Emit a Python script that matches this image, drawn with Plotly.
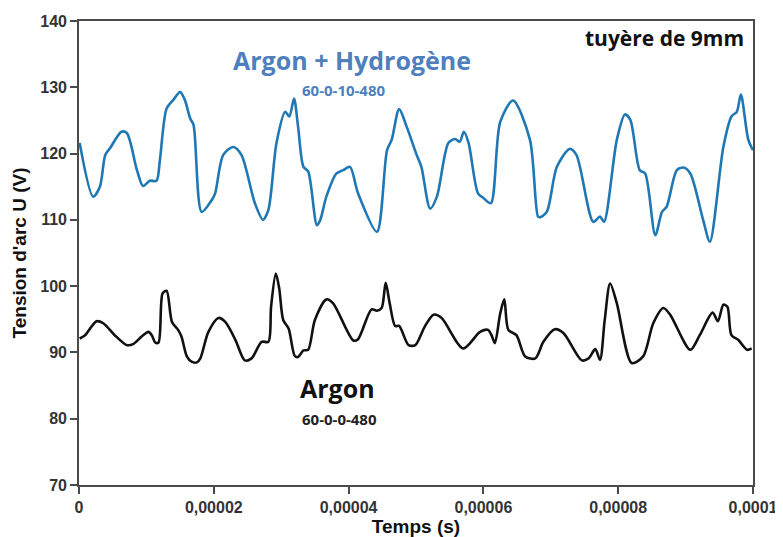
import plotly.graph_objects as go

# Time in units of 1e-5 s
t_h2 = [0.01,0.21,0.31,0.39,0.46,0.63,0.71,0.86,0.95,1.05,1.15,1.20,1.30,1.40,1.50,1.57,1.65,1.70,1.82,1.97,2.02,2.14,2.29,2.41,2.61,2.73,2.81,2.93,3.06,3.12,3.19,3.25,3.33,3.40,3.53,3.58,3.67,3.82,3.92,4.02,4.14,4.42,4.57,4.64,4.75,4.86,5.01,5.08,5.21,5.31,5.48,5.58,5.65,5.71,5.78,5.92,6.00,6.11,6.25,6.44,6.69,6.81,6.84,6.94,7.09,7.28,7.38,7.63,7.73,7.79,7.98,8.10,8.18,8.32,8.40,8.55,8.65,8.72,8.87,8.97,9.07,9.26,9.36,9.56,9.68,9.76,9.82,9.93,10.0]
u_h2 = [121.6,113.5,115.0,119.8,120.8,123.3,123.1,117.5,115.1,115.9,115.9,119.0,126.8,128.1,129.3,128.1,125.3,124.3,111.2,113.0,114.0,119.8,121.0,119.8,112.5,110.0,111.5,121.6,126.3,125.6,128.3,124.1,118.0,117.3,109.2,110.0,113.5,117.0,117.5,118.0,114.0,108.2,120.5,122.1,126.7,124.1,119.8,118.0,111.7,113.5,121.6,122.2,121.8,123.3,121.6,114.0,113.3,112.5,124.8,128.0,122.1,110.5,110.4,111.2,118.0,120.7,119.8,109.7,110.5,109.7,122.1,125.9,125.1,117.5,117.0,107.7,111.2,112.0,117.5,117.9,117.0,110.0,106.7,121.0,125.6,126.3,128.9,122.1,120.5]

t_ar = [0.01,0.09,0.26,0.36,0.53,0.71,0.81,0.93,1.03,1.08,1.13,1.18,1.24,1.30,1.38,1.47,1.52,1.60,1.67,1.75,1.80,1.92,2.07,2.17,2.32,2.46,2.56,2.71,2.81,2.85,2.92,2.97,3.03,3.11,3.20,3.25,3.33,3.40,3.50,3.67,3.77,4.07,4.14,4.34,4.42,4.49,4.55,4.61,4.69,4.75,4.89,4.99,5.13,5.26,5.38,5.70,5.95,6.07,6.12,6.17,6.25,6.31,6.37,6.49,6.62,6.77,6.89,7.06,7.19,7.46,7.56,7.66,7.73,7.80,7.88,7.98,8.20,8.37,8.52,8.67,8.77,9.07,9.21,9.40,9.48,9.56,9.62,9.68,9.78,9.91,9.98]
u_ar = [92.1,92.6,94.7,94.4,92.6,91.1,91.3,92.4,93.1,92.6,91.5,91.5,98.9,99.3,94.6,93.4,92.4,89.4,88.6,88.5,89.1,93.1,95.2,94.6,91.9,88.8,89.1,91.6,91.6,96.9,101.9,99.7,94.9,93.6,89.5,89.3,90.3,90.4,94.9,98.0,97.4,91.8,92.0,96.5,96.3,96.7,100.5,97.4,94.0,94.0,91.1,91.1,93.9,95.7,95.2,90.6,93.1,93.4,92.6,91.4,95.9,98.0,93.4,92.6,89.4,89.1,91.6,93.5,92.9,88.8,89.1,90.5,88.9,94.9,100.4,97.4,88.4,89.4,94.4,96.7,95.7,90.4,92.6,96.0,94.7,97.2,96.9,92.6,91.9,90.4,90.6]

x_tickvals = [0, 0.00002, 0.00004, 0.00006, 0.00008, 0.0001]
x_ticktext = ["0", "0,00002", "0,00004", "0,00006", "0,00008", "0,0001"]
y_tickvals = [70, 80, 90, 100, 110, 120, 130, 140]

fig = go.Figure()
fig.add_trace(go.Scatter(x=[t * 1e-5 for t in t_h2], y=u_h2, mode="lines",
                         line=dict(color="#1f78b4", width=2.6, shape="spline", smoothing=0.8),
                         showlegend=False))
fig.add_trace(go.Scatter(x=[t * 1e-5 for t in t_ar], y=u_ar, mode="lines",
                         line=dict(color="#111111", width=2.6, shape="spline", smoothing=0.8),
                         showlegend=False))

tickfont = dict(family="Liberation Sans", size=16, color="#333333", weight="bold")
axis_common = dict(showgrid=False, zeroline=False, showline=True, linecolor="#4a4a4a", linewidth=1.6,
                   mirror=True, ticks="outside", ticklen=7, tickcolor="#4a4a4a", tickwidth=1.6,
                   tickfont=tickfont, automargin=False)
fig.update_xaxes(range=[0, 0.0001], tickvals=x_tickvals, ticktext=x_ticktext, **axis_common,
                 title=dict(text="Temps (s)", font=dict(family="Liberation Sans", size=19, color="#111111", weight="bold"),
                            standoff=0))
fig.update_yaxes(range=[70, 140], tickvals=y_tickvals, **axis_common,
                 title=dict(text="Tension d'arc U (V)", font=dict(family="Liberation Sans", size=19, color="#111111", weight="bold"),
                            standoff=9))

ann_font = "Open Sans"
fig.add_annotation(xref="x", yref="y", x=0.0000405, y=134.1, text="Argon + Hydrogène", showarrow=False,
                   font=dict(family=ann_font, size=25, color="#4f7fbd", weight="bold"))
fig.add_annotation(xref="x", yref="y", x=0.0000393, y=129.6, text="60-0-10-480", showarrow=False,
                   font=dict(family=ann_font, size=15, color="#4f7fbd", weight="bold"))
fig.add_annotation(xref="x", yref="y", x=0.0000384, y=84.6, text="Argon", showarrow=False,
                   font=dict(family=ann_font, size=25, color="#111111", weight="bold"))
fig.add_annotation(xref="x", yref="y", x=0.0000386, y=80.0, text="60-0-0-480", showarrow=False,
                   font=dict(family=ann_font, size=15, color="#222222", weight="bold"))
fig.add_annotation(xref="paper", yref="paper", x=0.99, y=0.963, xanchor="right", yanchor="middle",
                   text="tuyère de 9mm", showarrow=False,
                   font=dict(family=ann_font, size=21, color="#111111", weight="bold"))

# The page body adds an 8px margin, so the figure is sized to fit the window
fig.update_layout(width=775, height=529, margin=dict(l=71, r=30, t=13, b=52),
                  plot_bgcolor="white", paper_bgcolor="white")

fig.write_html("out.html")
